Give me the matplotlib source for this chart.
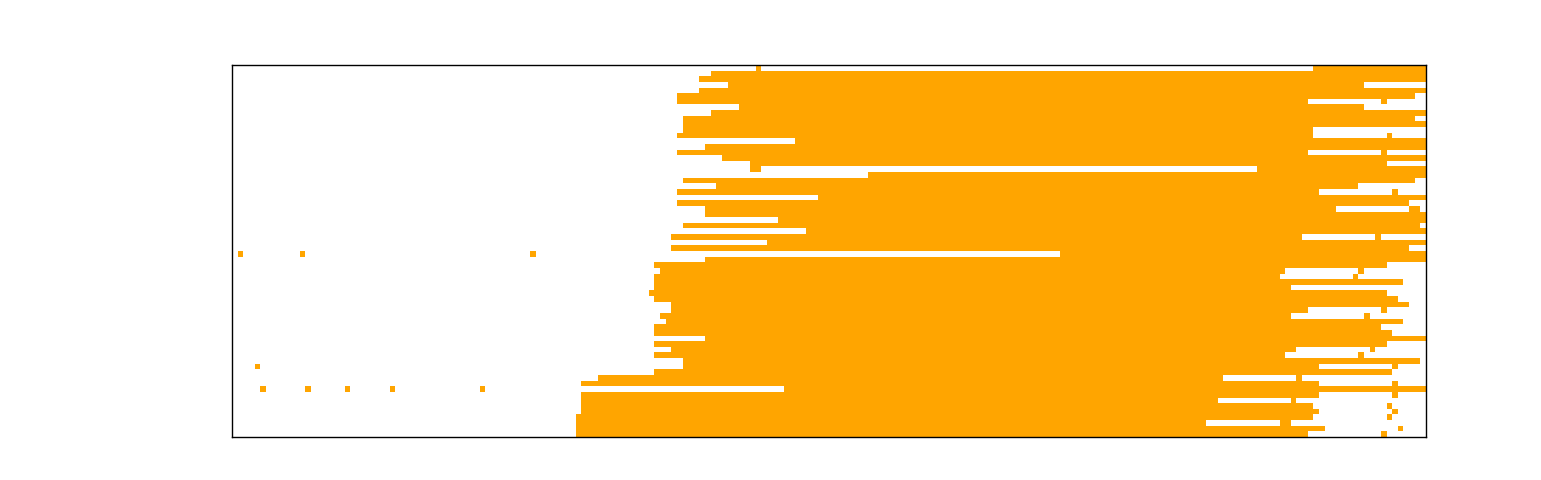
import numpy as np
from matplotlib import pyplot as plt
from matplotlib.colors import ListedColormap

n_rows = 66
n_cols = 212

# first and last column of the main orange run in each row (top row first)
run_start = [192, 85, 83, 88, 83, 79, 79, 90, 85, 80,
             80, 80, 79, 100, 84, 79, 87, 92, 92, 113,
             80, 86, 79, 104, 79, 84, 84, 97, 80, 102,
             78, 95, 78, 147, 84, 75, 76, 75, 75, 75,
             74, 75, 78, 78, 76, 77, 75, 75, 84, 75,
             78, 75, 80, 80, 75, 65, 62, 98, 62, 62,
             62, 62, 61, 61, 61, 61]
run_end = [211, 211, 211, 200, 211, 209, 190, 200, 211, 209,
           211, 191, 191, 211, 211, 190, 211, 204, 211, 211,
           209, 199, 192, 211, 208, 195, 211, 211, 210, 211,
           189, 211, 208, 211, 211, 204, 186, 185, 207, 187,
           204, 206, 208, 190, 187, 207, 203, 205, 211, 204,
           188, 186, 210, 192, 205, 175, 192, 211, 192, 174,
           191, 192, 191, 172, 193, 190]

# white gaps inside a run: (row, first col, last col)
gaps = [(18, 94, 181)]

# single orange cells outside the runs: (row, col)
single_cells = [(0, 93), (6, 204), (12, 205), (15, 204), (22, 206),
                (25, 209), (25, 210), (30, 203), (33, 1), (33, 12), (33, 53),
                (36, 200), (37, 199), (43, 204), (44, 201), (50, 202),
                (51, 200), (53, 4), (53, 206), (55, 189), (56, 206),
                (57, 5), (57, 13), (57, 20), (57, 28), (57, 44),
                (58, 206), (59, 188), (60, 205), (61, 206), (62, 205),
                (63, 186), (63, 187), (64, 207), (65, 204)]

grid = np.zeros((n_rows, n_cols))
for r in range(n_rows):
    grid[r, run_start[r]:run_end[r] + 1] = 1
for r, a, b in gaps:
    grid[r, a:b + 1] = 0
for r, c in single_cells:
    grid[r, c] = 1

fig = plt.figure(figsize=(15.41, 4.8), dpi=100)
ax = fig.add_axes([231.5 / 1541, 43 / 480, 1194 / 1541, 372 / 480])
ax.imshow(grid, cmap=ListedColormap(['white', 'orange']), vmin=0, vmax=1,
          aspect='auto', interpolation='nearest')
ax.set_xticks([])
ax.set_yticks([])
for s in ax.spines.values():
    s.set_color('black')
    s.set_linewidth(1.0)

plt.savefig('out.png', dpi=100)
